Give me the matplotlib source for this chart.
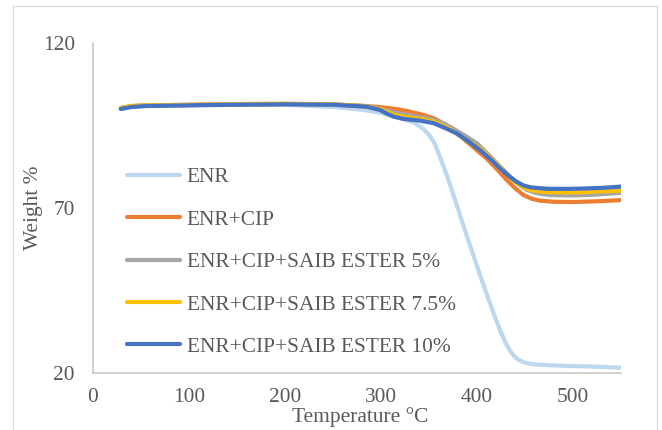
import matplotlib
matplotlib.use("Agg")
import matplotlib.pyplot as plt
from matplotlib.patches import Rectangle

plt.rcParams['font.family'] = ['Liberation Serif', 'DejaVu Serif']
txt = '#595959'
size = 15.4

# TGA curves (temperature in degC, weight %)
enr_t = [29, 40, 55, 100, 150, 200, 250, 280, 300, 320, 335, 344, 350, 356, 362, 369, 376, 383,
         390, 397, 404, 411, 418, 424, 430, 436, 442, 450, 460, 480, 500, 525, 550]
enr_w = [100.2, 100.8, 101.0, 101.2, 101.3, 101.3, 100.6, 99.8, 98.8, 97.3, 95.8, 94.0, 92.2, 89.5,
         85.0, 79.6, 73.5, 67.2, 61.0, 55.0, 49.0, 43.2, 37.5, 33.0, 29.0, 26.0, 24.2, 23.1, 22.6,
         22.3, 22.1, 21.9, 21.6]

cip_t = [29, 40, 55, 100, 150, 200, 250, 280, 302, 318, 330, 343, 355, 367, 379, 392, 403, 410,
         420, 431, 440, 448, 457, 466, 480, 500, 511, 530, 551]
cip_w = [100.3, 100.9, 101.1, 101.3, 101.5, 101.6, 101.4, 101.0, 100.5, 99.9, 99.2, 98.3, 97.2,
         95.3, 92.6, 89.5, 86.7, 85.0, 82.0, 78.5, 75.9, 74.0, 72.8, 72.2, 71.9, 71.8, 71.9, 72.1, 72.4]

s5_t = [29, 40, 55, 100, 150, 200, 250, 285, 300, 313, 325, 340, 355, 365, 372, 386, 400, 415,
        431, 442, 452, 462, 476, 500, 520, 551]
s5_w = [100.2, 100.8, 101.0, 101.2, 101.4, 101.5, 101.4, 100.8, 100.0, 99.0, 98.3, 97.6, 96.7,
        95.6, 94.6, 92.2, 89.6, 85.3, 80.5, 77.5, 75.5, 74.5, 73.9, 73.8, 74.0, 74.6]

s75_t = [29, 40, 55, 100, 150, 200, 250, 285, 300, 313, 325, 340, 355, 370, 385, 403, 420, 435,
         447, 455, 465, 476, 500, 520, 551]
s75_w = [100.3, 100.9, 101.1, 101.2, 101.4, 101.5, 101.4, 100.8, 99.9, 98.3, 97.6, 97.0, 96.2,
         94.2, 91.3, 88.1, 83.5, 79.0, 76.5, 75.5, 75.0, 74.8, 74.7, 74.9, 75.3]

s10_t = [29, 40, 55, 100, 150, 200, 250, 285, 299, 306, 313, 323, 340, 355, 367, 379, 391, 403,
         414, 424, 433, 441, 448, 455, 465, 476, 495, 511, 530, 551]
s10_w = [100.0, 100.6, 100.9, 101.1, 101.3, 101.4, 101.3, 100.7, 99.7, 98.6, 97.7, 97.0, 96.5,
         95.7, 94.2, 92.6, 90.2, 87.6, 84.8, 82.0, 79.7, 78.0, 76.9, 76.3, 76.0, 75.8, 75.8, 75.9,
         76.1, 76.5]

labels = ["ENR", "ENR+CIP", "ENR+CIP+SAIB ESTER 5%", "ENR+CIP+SAIB ESTER 7.5%", "ENR+CIP+SAIB ESTER 10%"]
colors = ['#bdd7ee', '#ed7d31', '#a5a5a5', '#ffc000', '#4472c4']
series = [(enr_t, enr_w), (cip_t, cip_w), (s5_t, s5_w), (s75_t, s75_w), (s10_t, s10_w)]

fig = plt.figure(figsize=(6.62, 4.30), dpi=100)
fig.patches.append(Rectangle((13/662, -0.05), (657-13)/662, 1.05 - 6/430, transform=fig.transFigure,
                             fill=False, edgecolor='#d9d9d9', linewidth=1.0))
ax = fig.add_axes([93/662, 57/430, 528/662, 330/430])

for (t, w), lab, c in zip(series, labels, colors):
    ax.plot(t, w, color=c, lw=3.0, label=lab, solid_capstyle='round', solid_joinstyle='round')

ax.set_xlim(0, 550)
ax.set_ylim(20, 120)
ax.set_xticks([0, 100, 200, 300, 400, 500])
ax.set_yticks([20, 70, 120])
ax.tick_params(length=0, labelsize=size, labelcolor=txt)
ax.tick_params(axis='x', pad=11)
ax.tick_params(axis='y', pad=13)
for s in ['top', 'right']:
    ax.spines[s].set_visible(False)
for s in ['left', 'bottom']:
    ax.spines[s].set_color('#c8c8c8')
    ax.spines[s].set_linewidth(1.2)

ax.set_xlabel("Temperature \u00b0C", fontsize=size, color=txt)
ax.xaxis.set_label_coords(0.506, -0.103)
ax.set_ylabel("Weight %", fontsize=size, color=txt)
ax.yaxis.set_label_coords(-0.094, 0.5)

ax.legend(loc='center left', bbox_to_anchor=(0.064, 0.336), frameon=False, fontsize=size,
          labelcolor=txt, handlelength=2.5, handletextpad=0.3, labelspacing=1.05,
          borderpad=0, borderaxespad=0)

plt.savefig("out.png", dpi=100)
